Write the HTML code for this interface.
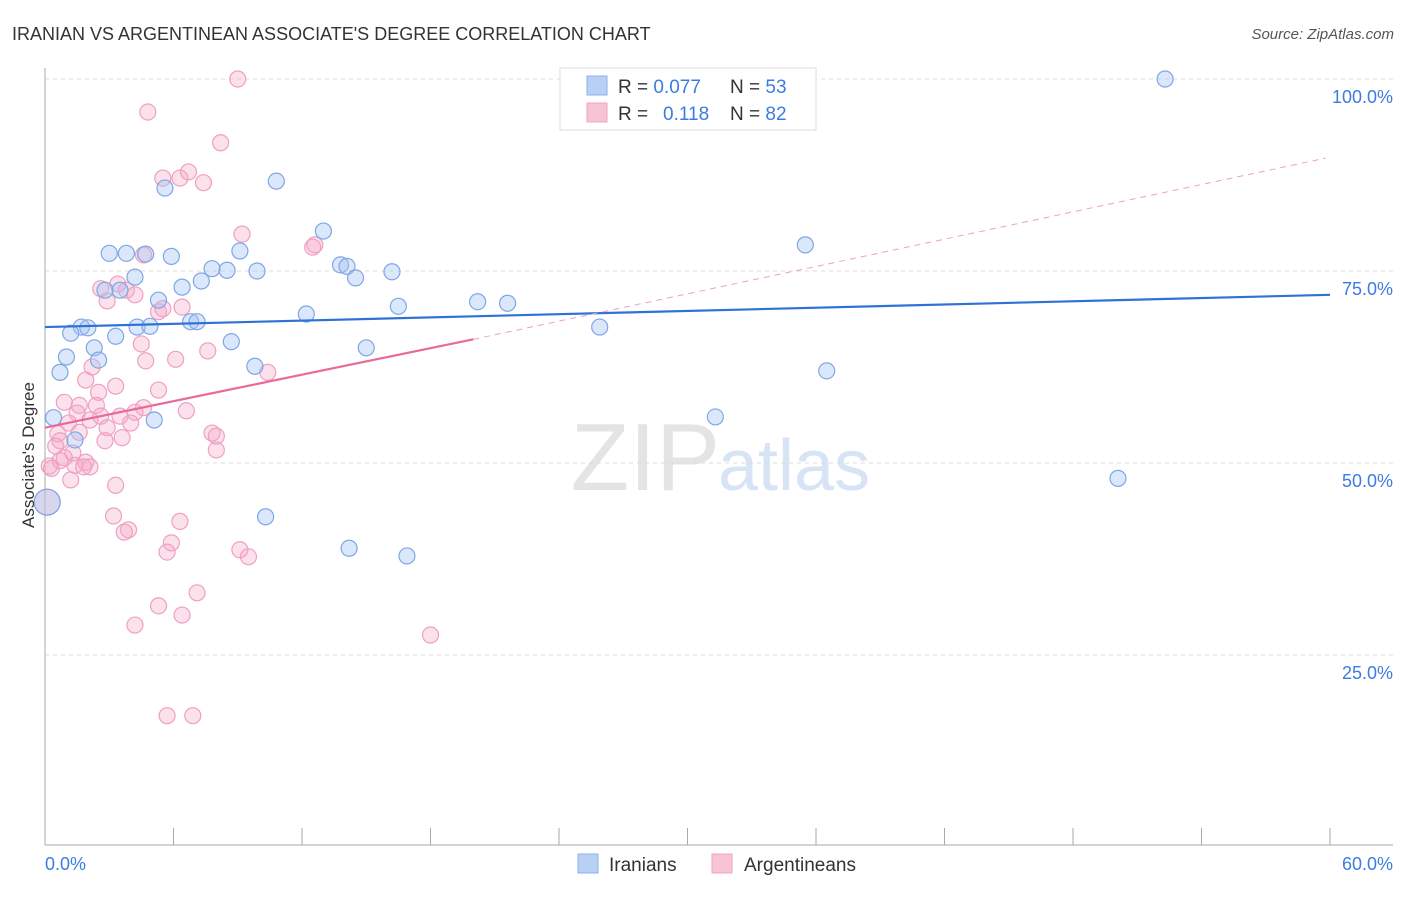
<!DOCTYPE html>
<html><head><meta charset="utf-8"><style>
body{margin:0;background:#fff;font-family:"Liberation Sans",sans-serif;}
svg text{font-family:"Liberation Sans",sans-serif;}
</style></head><body>
<svg id="chart" width="1406" height="892" xmlns="http://www.w3.org/2000/svg">
<text x="12" y="40" font-size="18" fill="#333">IRANIAN VS ARGENTINEAN ASSOCIATE'S DEGREE CORRELATION CHART</text>
<text x="1394" y="39" font-size="15" fill="#555" font-style="italic" text-anchor="end">Source: ZipAtlas.com</text>
<text x="720" y="490" font-size="96" fill="#e4e4e4" font-family="Liberation Serif" text-anchor="end">ZIP</text>
<text x="718" y="490" font-size="72" fill="#d6e4f5">atlas</text>
<g id="grid"></g>
<g id="axes"></g>
<g id="marks"></g>
<text transform="translate(34,455) rotate(-90)" font-size="17" fill="#333" text-anchor="middle">Associate's Degree</text>
<g>
<rect x="560" y="68" width="256" height="62" fill="#fff" stroke="#ddd"/>
<rect x="587" y="76" width="20" height="19" fill="#b8d0f4" stroke="#8fb2e8"/>
<rect x="587" y="103" width="20" height="19" fill="#f8c3d4" stroke="#eea5bd"/>
<text x="618" y="93" font-size="19" fill="#333">R = <tspan fill="#3d7be0">0.077</tspan><tspan x="730">N = </tspan><tspan fill="#3d7be0">53</tspan></text>
<text x="618" y="120" font-size="19" fill="#333">R = <tspan x="663" fill="#3d7be0">0.118</tspan><tspan x="730">N = </tspan><tspan fill="#3d7be0">82</tspan></text>
</g>
<g>
<rect x="578" y="854" width="20" height="19" fill="#b8d0f4" stroke="#8fb2e8"/>
<text x="609" y="871" font-size="19" fill="#333">Iranians</text>
<rect x="712" y="854" width="20" height="19" fill="#f8c3d4" stroke="#eea5bd"/>
<text x="744" y="871" font-size="19" fill="#333">Argentineans</text>
</g>
</svg>
<script>
const xTicks=[0,60];
const yTicks=[25,50,75,100];
const blueX=[52.3,5.6,10.8,13.0,3.0,3.8,5.9,9.1,4.7,13.8,14.1,7.8,8.5,9.9,16.2,4.2,14.5,7.3,6.4,3.5,2.8,5.3,20.2,21.6,16.5,12.2,6.8,7.1,4.3,4.9,1.7,2.0,1.2,25.9,3.3,8.7,15.0,2.3,1.0,2.5,9.8,0.7,36.5,31.3,5.1,0.4,1.4,50.1,0.1,10.3,14.2,16.9,35.5];
const blueY=[100,85.8,86.7,80.2,77.3,77.3,76.9,77.6,77.2,75.8,75.6,75.3,75.1,75.0,74.9,74.2,74.1,73.7,72.9,72.5,72.5,71.2,71.0,70.8,70.4,69.4,68.4,68.4,67.7,67.8,67.7,67.6,66.9,67.7,66.5,65.8,65.0,65.0,63.8,63.4,62.6,61.8,62.0,56.0,55.6,55.9,53.0,48.0,44.9,43.0,38.9,37.9,78.4];
const pinkX=[9.0,4.8,8.2,5.5,6.3,6.7,7.4,9.2,12.6,12.5,4.6,3.4,2.6,3.8,4.2,2.9,6.4,5.3,5.5,4.5,7.6,6.1,4.7,2.2,10.4,1.9,3.3,5.3,2.5,0.9,1.6,2.4,4.6,4.2,6.6,1.5,2.6,3.5,2.1,1.1,4.0,2.9,1.6,0.6,7.8,8.0,0.7,3.6,2.8,8.0,0.5,1.3,0.9,0.7,1.9,1.4,2.1,0.3,0.2,1.8,1.2,3.3,0.1,3.2,3.9,3.7,6.3,5.9,5.7,9.1,9.5,7.1,5.3,6.4,4.2,18.0,5.7,6.9];
const pinkY=[100,95.7,91.7,87.1,87.1,87.9,86.5,79.8,78.4,78.1,77.1,73.3,72.7,72.5,71.9,71.1,70.3,69.7,70.1,65.5,64.6,63.5,63.3,62.5,61.8,60.8,60.0,59.5,59.2,57.9,57.5,57.5,57.2,56.6,56.8,56.5,56.1,56.1,55.6,55.2,55.2,54.6,54.0,53.8,53.9,53.5,52.9,53.3,52.9,51.7,52.2,51.3,50.7,50.3,50.1,49.7,49.5,49.3,49.6,49.5,47.8,47.1,44.9,43.1,41.3,41.0,42.4,39.6,38.4,38.7,37.8,33.1,31.4,30.2,28.9,27.6,17.1,17.1];
const blueTrend=[67.7,71.9];
const pinkTrend=[54.6,66.1,89.7];
const pinkSolidEnd=20;
const NS="http://www.w3.org/2000/svg";
const sx=v=>45+v/60*1285;
const sy=v=>847-v/100*768;
function mk(tag,attrs,parent){const e=document.createElementNS(NS,tag);for(const k in attrs)e.setAttribute(k,attrs[k]);document.getElementById(parent).appendChild(e);return e;}
yTicks.forEach(t=>{
 const l=mk('line',{x1:45,x2:1393,y1:sy(t),y2:sy(t),stroke:'#ddd','stroke-dasharray':'4,4'},'grid');
 
 
 const tx=mk('text',{x:1393,y:sy(t)+24,'font-size':18,fill:'#3d7be0','text-anchor':'end'},'grid');
 tx.textContent=t.toFixed(1)+'%';
 
 
});
mk('line',{x1:45,x2:45,y1:68,y2:845,stroke:'#aaa'},'axes');
mk('line',{x1:45,x2:1393,y1:845,y2:845,stroke:'#aaa'},'axes');
for(let i=0;i<=10;i++){const x=sx(i*6);mk('line',{x1:x,x2:x,y1:828,y2:845,stroke:'#aaa'},'axes');}
xTicks.forEach((t,i)=>{
 const tx=mk('text',{x:i?1393:45,y:870,'font-size':18,fill:'#3d7be0','text-anchor':i?'end':'start'},'axes');
 tx.textContent=t.toFixed(1)+'%';
 
 
});
function dots(X,Y,fill,stroke,name){
 X.forEach((x,i)=>{
  const big=x<0.2&&Y[i]>44&&Y[i]<46;
  const c=mk('circle',{cx:sx(x),cy:sy(Y[i]),r:big?13:8,fill:fill,stroke:stroke,'stroke-width':1.2},'marks');
  
  
 });
}
dots(pinkX,pinkY,'rgba(244,170,200,0.35)','#f0a0bd','argentinean-point');
dots(blueX,blueY,'rgba(164,194,244,0.4)','#7fa6e6','iranian-point');
const bl=mk('line',{x1:sx(0),y1:sy(blueTrend[0]),x2:sx(60),y2:sy(blueTrend[1]),stroke:'#2f72d6','stroke-width':2.2},'marks');


const pl=mk('line',{x1:sx(0),y1:sy(pinkTrend[0]),x2:sx(pinkSolidEnd),y2:sy(pinkTrend[1]),stroke:'#e8699a','stroke-width':2.2},'marks');


const pd=mk('line',{x1:sx(pinkSolidEnd),y1:sy(pinkTrend[1]),x2:sx(59.8),y2:sy(pinkTrend[2]),stroke:'#eea0bd','stroke-width':1,'stroke-dasharray':'6,5'},'marks');


</script>
</body></html>
